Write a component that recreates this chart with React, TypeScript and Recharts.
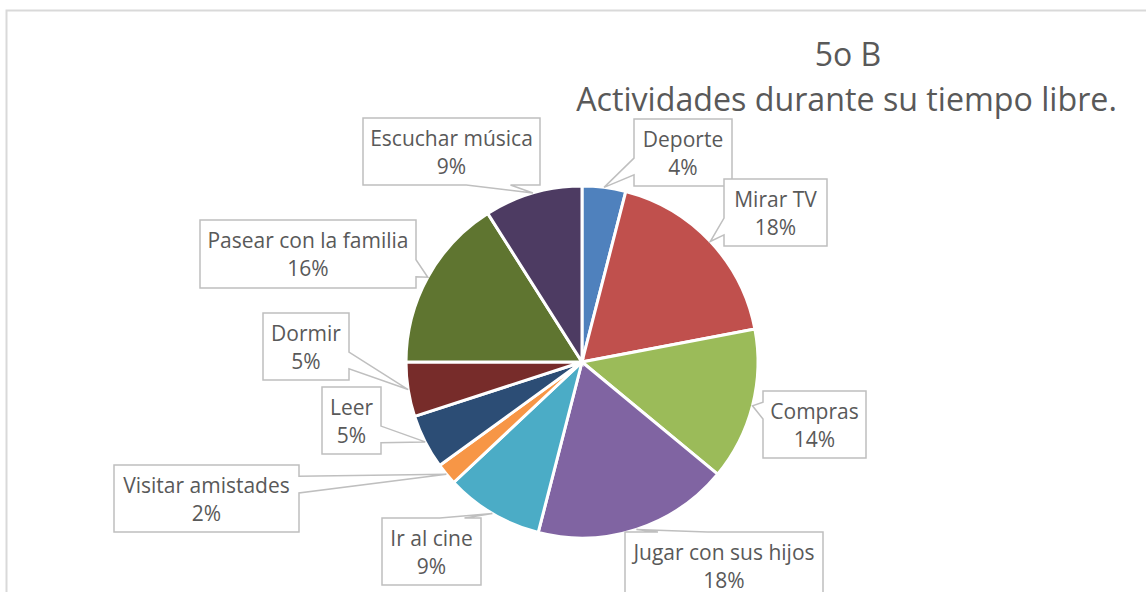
import React from 'react';
import { PieChart, Pie, Cell } from 'recharts';

// ---- data ----
const CATEGORIES = [
  'Deporte',
  'Mirar TV',
  'Compras',
  'Jugar con sus hijos',
  'Ir al cine',
  'Visitar amistades',
  'Leer',
  'Dormir',
  'Pasear con la familia',
  'Escuchar música',
];
const VALUES = [4, 18, 14, 18, 9, 2, 5, 5, 16, 9];
const COLORS = [
  '#4F81BD',
  '#C0504D',
  '#9BBB59',
  '#8064A2',
  '#4BACC6',
  '#F79646',
  '#2C4D75',
  '#772C2A',
  '#5F7530',
  '#4D3B62',
];
const TITLE_LINES = ['5o B', 'Actividades durante su tiempo libre.'];

// ---- layout (callout boxes, relative to pie centre) ----
const LABEL_BOXES = [
  { dx: 52, dy: -243, w: 98, h: 67 },
  { dx: 142, dy: -183, w: 103, h: 67 },
  { dx: 181, dy: 29, w: 103, h: 67 },
  { dx: 43, dy: 170, w: 198, h: 67 },
  { dx: -200, dy: 156, w: 99, h: 67, side: 'top' },
  { dx: -468, dy: 103, w: 185, h: 67 },
  { dx: -260, dy: 25, w: 59, h: 67 },
  { dx: -319, dy: -49, w: 86, h: 67 },
  { dx: -382, dy: -142, w: 216, h: 68 },
  { dx: -219, dy: -244, w: 177, h: 67 },
];

const W = 1146;
const H = 592;
const CX = 582;
const CY = 362;
const R = 176;
const TEXT_COLOR = '#595959';
const FONT = '"Open Sans", "DejaVu Sans", sans-serif';

const data = CATEGORIES.map((name, i) => ({ name, value: VALUES[i] }));

function calloutPath(x: number, y: number, w: number, h: number, tx: number, ty: number, forced?: string) {
  const hc = x + w / 2;
  const vc = y + h / 2;
  const dxPos = tx - hc;
  const dyPos = ty - vc;
  let side = forced;
  if (!side) {
    const dq = Math.abs((dxPos * h) / w);
    if (Math.abs(dyPos) > dq) side = dyPos > 0 ? 'bottom' : 'top';
    else side = dxPos > 0 ? 'right' : 'left';
  }
  const fx = dxPos > 0 ? [7 / 12, 10 / 12] : [2 / 12, 5 / 12];
  const fy = dyPos > 0 ? [7 / 12, 10 / 12] : [2 / 12, 5 / 12];
  const TL = [x, y], TR = [x + w, y], BR = [x + w, y + h], BL = [x, y + h];
  const T = [tx, ty];
  let pts: number[][];
  if (side === 'top') {
    pts = [TL, [x + fx[0] * w, y], T, [x + fx[1] * w, y], TR, BR, BL];
  } else if (side === 'right') {
    pts = [TL, TR, [x + w, y + fy[0] * h], T, [x + w, y + fy[1] * h], BR, BL];
  } else if (side === 'bottom') {
    pts = [TL, TR, BR, [x + fx[1] * w, y + h], T, [x + fx[0] * w, y + h], BL];
  } else {
    pts = [TL, TR, BR, BL, [x, y + fy[1] * h], T, [x, y + fy[0] * h]];
  }
  return 'M' + pts.map((p) => `${p[0]},${p[1]}`).join(' L') + ' Z';
}

const RAD = Math.PI / 180;

function renderLabel(props: any) {
  const { cx, cy, midAngle, outerRadius, index, name, percent } = props;
  const box = LABEL_BOXES[index];
  if (!box) return null;
  const tx = cx + outerRadius * Math.cos(-midAngle * RAD);
  const ty = cy + outerRadius * Math.sin(-midAngle * RAD);
  const x = cx + box.dx;
  const y = cy + box.dy;
  const d = calloutPath(x, y, box.w, box.h, tx, ty, (box as any).side);
  return (
    <g key={`lbl-${index}`}>
      <path d={d} fill="#ffffff" stroke="#bfbfbf" strokeWidth={1.5} strokeLinejoin="miter" />
      <text
        x={x + box.w / 2}
        y={y + 28}
        textAnchor="middle"
        fill={TEXT_COLOR}
        fontFamily={FONT}
        fontSize={21}
      >
        {name}
      </text>
      <text
        x={x + box.w / 2}
        y={y + 56}
        textAnchor="middle"
        fill={TEXT_COLOR}
        fontFamily={FONT}
        fontSize={21}
      >
        {`${Math.round(percent * 100)}%`}
      </text>
    </g>
  );
}

export default function App() {
  return (
    <div style={{ position: 'absolute', left: 0, top: 0, width: W, height: H, overflow: 'hidden', background: '#ffffff' }}>
      <svg width={W} height={H} style={{ position: 'absolute', left: 0, top: 0 }}>
        <path d={`M6.5,${H + 10} L6.5,10.5 L${W + 10},10.5`} fill="none" stroke="#d9d9d9" strokeWidth={2} />
        <text x={848} y={66} textAnchor="middle" fill={TEXT_COLOR} fontFamily={FONT} fontSize={32}>
          {TITLE_LINES[0]}
        </text>
        <text x={846.5} y={111} textAnchor="middle" fill={TEXT_COLOR} fontFamily={FONT} fontSize={32.2}>
          {TITLE_LINES[1]}
        </text>
      </svg>
      <div style={{ position: 'absolute', left: 0, top: 0 }}>
        <PieChart width={W} height={H} margin={{ top: 0, right: 0, bottom: 0, left: 0 }}>
          <Pie
            data={data}
            dataKey="value"
            nameKey="name"
            cx={CX}
            cy={CY}
            outerRadius={R}
            innerRadius={0}
            startAngle={90}
            endAngle={-270}
            stroke="#ffffff"
            strokeWidth={3}
            label={renderLabel}
            labelLine={false}
            isAnimationActive={false}
          >
            {data.map((d, i) => (
              <Cell key={d.name} fill={COLORS[i]} />
            ))}
          </Pie>
        </PieChart>
      </div>
    </div>
  );
}
